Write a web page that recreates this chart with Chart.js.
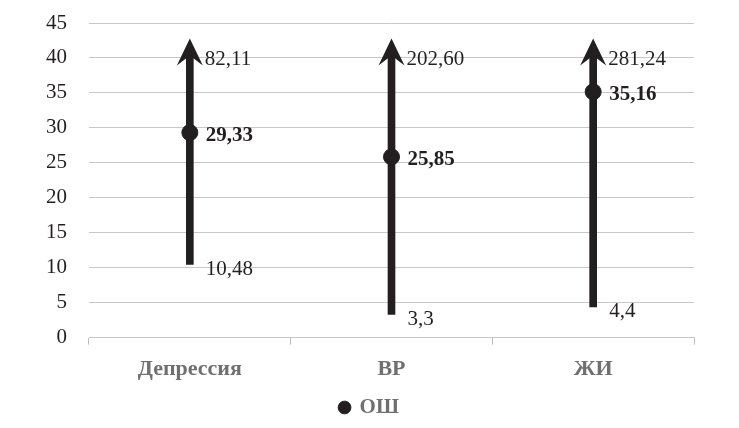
<!DOCTYPE html>
<html>
<head>
<meta charset="utf-8">
<script src="https://cdn.jsdelivr.net/npm/chart.js@4/dist/chart.umd.min.js"></script>
<style>
  html, body { margin: 0; padding: 0; background: #fff; }
  #wrap { width: 739px; height: 428px; }
</style>
</head>
<body>
<div id="wrap"><canvas id="myChart"></canvas></div>
<script>
// data
var categories = ['Депрессия', 'ВР', 'ЖИ'];
var orValues = [29.33, 25.85, 35.16];     // ОШ
var lowValues = [10.48, 3.3, 4.4];        // lower bound
var highValues = [82.11, 202.60, 281.24]; // upper bound (off scale -> arrow)
var yTicks = [0, 5, 10, 15, 20, 25, 30, 35, 40, 45];

var arrowTip = 42.8;   // where the off-scale arrow ends on the axis
var shaftTop = 41;

var ink = '#231f20';
var serif = '"Liberation Serif", "Times New Roman", serif';

function comma(s) { return String(s).replace('.', ','); }

var whiskerPlugin = {
  id: 'whiskers',
  afterDatasetsDraw: function(chart) {
    var ctx = chart.ctx;
    var xs = chart.scales.x, ys = chart.scales.y;
    ctx.save();
    for (var i = 0; i < categories.length; i++) {
      var x = xs.getPixelForValue(i);
      var yt = ys.getPixelForValue(Math.min(highValues[i], arrowTip));
      // arrow head
      ctx.fillStyle = ink;
      ctx.beginPath();
      ctx.moveTo(x, yt);
      ctx.lineTo(x + 13, yt + 27);
      ctx.lineTo(x, yt + 17);
      ctx.lineTo(x - 13, yt + 27);
      ctx.closePath();
      ctx.fill();

      ctx.textAlign = 'left';
      ctx.textBaseline = 'middle';
      ctx.fillStyle = ink;
      ctx.font = '21px ' + serif;
      ctx.fillText(comma(highValues[i].toFixed(2)), x + 15, yt + 21);
      ctx.fillText(comma(lowValues[i]), x + 16, ys.getPixelForValue(lowValues[i]) + 5);
      ctx.font = 'bold 21px ' + serif;
      ctx.fillText(comma(orValues[i].toFixed(2)), x + 16, ys.getPixelForValue(orValues[i]) + 3);
    }
    ctx.restore();
  }
};

var ctx = document.getElementById('myChart').getContext('2d');
var chart = new Chart(ctx, {
  type: 'bar',
  data: {
    labels: categories,
    datasets: [{
      label: 'range',
      data: lowValues.map(function(v) { return [v, shaftTop]; }),
      backgroundColor: ink,
      barThickness: 7,
      order: 2
    }, {
      type: 'line',
      label: 'ОШ',
      data: orValues,
      showLine: false,
      pointRadius: 8,
      pointHoverRadius: 8,
      pointBackgroundColor: ink,
      pointBorderColor: ink,
      pointStyle: 'circle',
      order: 1
    }]
  },
  options: {
    responsive: true,
    maintainAspectRatio: false,
    animation: false,
    layout: { padding: { top: 0, right: 45, left: 45, bottom: 0 } },
    plugins: {
      tooltip: { enabled: false },
      legend: {
        position: 'bottom',
        labels: {
          usePointStyle: true,
          boxWidth: 9,
          boxHeight: 9,
          padding: 2,
          color: '#707070',
          font: { family: serif, size: 21, weight: 'bold' },
          filter: function(item) { return item.text === 'ОШ'; }
        }
      }
    },
    scales: {
      x: {
        grid: { offset: true, drawOnChartArea: false, drawTicks: true, tickLength: 7, color: '#bdbdbd' },
        border: { color: '#c8c8c8' },
        ticks: { color: '#707070', font: { family: serif, size: 22, weight: 'bold' }, padding: 12 }
      },
      y: {
        min: 0,
        max: 45,
        afterBuildTicks: function(axis) { axis.ticks = yTicks.map(function(v) { return { value: v }; }); },
        // tick padding would otherwise also push the plot down from the top
        afterFit: function(axis) { axis.width = 44; axis.paddingTop = 23; axis.paddingBottom = 12; },
        grid: { color: '#c8c8c8', drawTicks: false },
        border: { display: false },
        ticks: { color: ink, font: { family: serif, size: 21 }, padding: 22 }
      }
    }
  },
  plugins: [whiskerPlugin]
});
</script>
</body>
</html>
